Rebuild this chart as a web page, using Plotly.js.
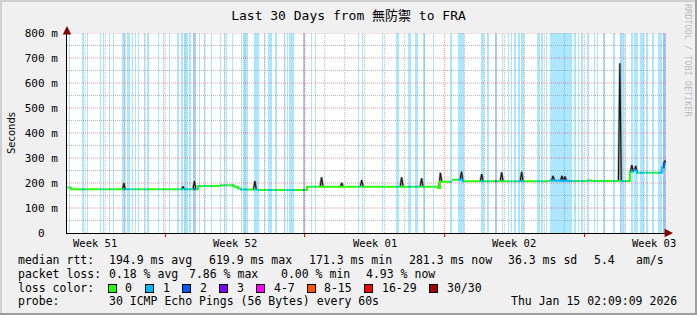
<!DOCTYPE html>
<html><head><meta charset="utf-8">
<script src="https://cdn.plot.ly/plotly-3.0.1.min.js"></script>
<style>
html,body{margin:0;padding:0;background:#f0f0f0;}
#wrap{position:relative;width:697px;height:315px;overflow:hidden;}
#chart{width:697px;height:315px;}
.fr{position:absolute;}
</style>
</head><body>
<div id="wrap">
<div id="chart"></div>
<div class="fr" style="left:0;top:0;width:697px;height:2px;background:#cfcfcf"></div>
<div class="fr" style="left:0;top:0;width:2px;height:315px;background:#cfcfcf"></div>
<div class="fr" style="left:0;bottom:0;width:697px;height:2px;background:#9e9e9e"></div>
<div class="fr" style="right:0;top:0;width:2px;height:315px;background:#9e9e9e"></div>
</div>
<script>
// ---- data (time in days since Tue Dec 16 2025 02:09:09) ----
const spanDays = 30;
const yMax = 800;
const titleText = 'Last 30 Days from 無防禦 to FRA';
const weekLabels = ['Week 51', 'Week 52', 'Week 01', 'Week 02', 'Week 03'];
const weekLabelDays = [1.41, 8.41, 15.41, 22.41, 29.41];
const weekStartDays = [4.91, 11.91, 18.91, 25.91];
const yTickVals = [0, 100, 200, 300, 400, 500, 600, 700, 800];
const yTickText = ['0\u00a0\u00a0', '100 m', '200 m', '300 m', '400 m', '500 m', '600 m', '700 m', '800 m'];
const yMinorVals = [50, 150, 250, 350, 450, 550, 650, 750];

// median rtt (ms), step changes
const medianDays = [0.00, 0.20, 6.56, 7.66, 8.36, 8.56, 8.71, 9.56, 12.02, 18.58, 18.68, 19.28, 19.83, 24.09, 24.99, 26.09, 26.29, 27.69, 27.74, 28.19, 28.39, 28.54, 29.79, 29.89];
const medianMs   = [182, 175, 188, 191, 185, 178, 174, 172, 185, 180, 205, 213, 207, 210, 208, 211, 208, 619.9, 208, 245, 250, 241, 262, 281.3];

// smoke peaks (ms)
const spikeDays  = [2.85, 5.81, 6.38, 9.41, 12.75, 13.76, 14.76, 16.76, 17.76, 18.70, 19.76, 20.77, 21.77, 22.77, 24.34, 24.79, 24.94, 27.69, 28.29, 28.49, 29.94];
const spikeTopMs = [199, 186, 208, 208, 223, 200, 212, 223, 219, 241, 245, 236, 243, 245, 228, 228, 226, 679, 272, 268, 290];

// packet loss intervals (pings lost of 30)
const lossStartDays = [0.08,0.75,1.02,1.64,1.82,2.10,2.32,2.77,2.87,3.00,
 3.24,3.41,3.54,3.84,4.02,4.54,4.81,5.12,5.52,5.69,
 5.86,6.12,6.32,6.59,6.86,7.20,7.66,7.86,7.98,8.26,
 8.70,8.83,9.36,9.48,9.86,10.07,10.40,10.87,11.00,11.12,
 11.23,11.83,12.23,12.42,14.57,14.79,15.77,16.47,17.08,17.43,
 17.84,18.31,19.18,19.58,20.72,21.02,21.43,21.77,22.10,22.23,
 22.38,22.58,22.72,23.55,23.72,24.00,24.19,25.39,25.59,25.72,
 26.05,26.39,26.55,26.86,27.34,27.69,27.74,27.94,28.23,28.39,
 28.69,28.98,29.28,29.59,29.86];
const lossEndDays = [0.13,0.85,1.07,1.72,1.87,2.15,2.37,2.87,2.92,3.15,
 3.32,3.46,3.61,3.92,4.09,4.61,4.86,5.17,5.59,5.79,
 6.06,6.21,6.46,6.66,6.93,7.26,7.71,7.91,8.03,8.31,
 8.76,9.05,9.45,9.61,9.91,10.27,10.50,10.92,11.07,11.20,
 11.37,11.90,12.28,12.47,14.64,14.84,15.82,16.61,17.23,17.58,
 17.91,18.36,19.28,19.88,20.88,21.13,21.53,21.82,22.15,22.30,
 22.48,22.67,22.89,23.67,23.82,24.05,25.30,25.47,25.65,25.84,
 26.14,26.44,26.60,26.93,27.44,27.74,27.89,28.01,28.36,28.59,
 28.89,29.11,29.38,29.80,29.98];
const lossLevel = [1,1,1,1,1,1,1,1,2,1,
 1,1,1,1,1,1,1,1,1,1,
 1,1,2,1,1,1,1,1,1,1,
 1,1,1,1,1,1,1,1,1,1,
 1,2,1,1,1,1,1,1,1,1,
 1,1,1,1,1,1,2,1,1,1,
 1,1,1,1,1,1,1,1,1,1,
 1,1,1,1,1,2,1,1,1,1,
 1,1,1,1,2];

const lossColorLabels = ['0', '1', '2', '3', '4-7', '8-15', '16-29', '30/30'];
const lossColors = ['#26ff00', '#00b8ff', '#0059ff', '#7e00ff', '#ff00ff', '#ff5500', '#ff0000', '#a10000'];

const rttLabel = 'median rtt:';
const rttStats = ['194.9 ms avg', '619.9 ms max', '171.3 ms min', '281.3 ms now', '36.3 ms sd', '5.4', 'am/s'];
const lossLabel = 'packet loss:';
const lossStats = ['0.18 % avg', '7.86 % max', '0.00 % min', '4.93 % now'];
const colorLabel = 'loss color:';
const probeLabel = 'probe:';
const probeText = '30 ICMP Echo Pings (56 Bytes) every 60s';
const stampText = 'Thu Jan 15 02:09:09 2026';
const watermark = 'RRDTOOL / TOBI OETIKER';

// ---- helpers ----
function medAt(t) {
  let v = medianMs[0];
  for (let i = 0; i < medianDays.length; i++) {
    if (medianDays[i] <= t + 1e-9) v = medianMs[i]; else break;
  }
  return v;
}
function lossAt(t) {
  for (let i = 0; i < lossStartDays.length; i++) {
    if (t >= lossStartDays[i] && t < lossEndDays[i]) return lossLevel[i];
  }
  return 0;
}
function colorIdx(L) {
  if (L <= 3) return L;
  if (L <= 7) return 4;
  if (L <= 15) return 5;
  if (L <= 29) return 6;
  return 7;
}
function rgba(hex, a) {
  const r = parseInt(hex.substr(1, 2), 16), g = parseInt(hex.substr(3, 2), 16), b = parseInt(hex.substr(5, 2), 16);
  return 'rgba(' + r + ',' + g + ',' + b + ',' + a + ')';
}
function vLines(vals) { const x = [], y = []; vals.forEach(v => { x.push(v, v, null); y.push(0, yMax, null); }); return { x, y }; }
function hLines(vals) { const x = [], y = []; vals.forEach(v => { x.push(0, spanDays, null); y.push(v, v, null); }); return { x, y }; }

// ---- traces ----
const traces = [];
traces.push({
  type: 'bar',
  x: lossStartDays.map((s, i) => (s + lossEndDays[i]) / 2),
  y: lossStartDays.map(() => yMax),
  width: lossStartDays.map((s, i) => lossEndDays[i] - s),
  base: 0,
  marker: { color: lossLevel.map(L => rgba(lossColors[colorIdx(L)], 0.33)), line: { width: 0 } },
  hoverinfo: 'skip'
});
const dayGrid = [];
for (let d = weekStartDays[0] - 7; d < spanDays; d += 1) {
  if (d > 0 && !weekStartDays.some(w => Math.abs(w - d) < 1e-6)) dayGrid.push(d);
}
const gMinor = 'rgba(128,128,128,0.55)';
const gMajor = 'rgba(255,0,0,0.42)';
const gDash = '1px,1px';
const g1 = vLines(dayGrid), g2 = hLines(yMinorVals), g3 = vLines(weekStartDays), g4 = hLines(yTickVals.filter(v => v > 0));
[[g1, gMinor], [g2, gMinor], [g3, gMajor], [g4, gMajor]].forEach(([g, c]) => {
  traces.push({ type: 'scatter', mode: 'lines', x: g.x, y: g.y, line: { color: c, width: 1, dash: gDash }, hoverinfo: 'skip' });
});
const sx = [], sy = [];
const half = 0.07;
spikeDays.forEach((t, i) => {
  sx.push(t - half, t, t + half, null);
  sy.push(medAt(t - half), spikeTopMs[i], medAt(t + half), null);
});
traces.push({ type: 'scatter', mode: 'lines', x: sx, y: sy, line: { color: 'rgba(150,150,150,0.7)', width: 2.6 }, hoverinfo: 'skip' });
traces.push({ type: 'scatter', mode: 'lines', x: sx, y: sy, line: { color: '#1a1a1a', width: 1.2 }, hoverinfo: 'skip' });

const bset = new Set([0, spanDays]);
medianDays.forEach(t => bset.add(t));
lossStartDays.forEach(t => bset.add(t));
lossEndDays.forEach(t => bset.add(t));
const bounds = Array.from(bset).filter(t => t >= 0 && t <= spanDays).sort((a, b) => a - b);
const segs = lossColors.map(() => ({ x: [], y: [], last: null }));
for (let i = 0; i < bounds.length - 1; i++) {
  const a = bounds[i], b = bounds[i + 1];
  if (b - a < 1e-9) continue;
  const mid = (a + b) / 2;
  const k = colorIdx(lossAt(mid));
  const v = medAt(mid);
  const s = segs[k];
  if (s.x.length && Math.abs(s.last - a) > 1e-9) { s.x.push(null); s.y.push(null); }
  s.x.push(a, b); s.y.push(v, v); s.last = b;
}
segs.forEach((s, k) => {
  if (!s.x.length) return;
  traces.push({ type: 'scatter', mode: 'lines', x: s.x, y: s.y, line: { color: lossColors[k], width: 2 }, hoverinfo: 'skip' });
});

// ---- layout ----
const L = 67, R = 666, T = 33, B = 233;
const px = p => (p - L) / (R - L);
const py = p => (B - p) / (B - T);
const mono = 'DejaVu Sans Mono, Noto Sans CJK JP, monospace';
const ann = [];
function txt(t, x, y, opts) {
  ann.push(Object.assign({ text: t, xref: 'paper', yref: 'paper', x: px(x), y: py(y), xanchor: 'left', yanchor: 'middle', showarrow: false, font: { family: mono, size: 11.5, color: '#000' } }, opts || {}));
}
txt(rttLabel, 16, 260);
[107, 207, 306.5, 406.5, 506, 592, 634].forEach((x, i) => txt(rttStats[i], x, 260));
txt(lossLabel, 16, 274);
[107, 187, 279, 364].forEach((x, i) => txt(lossStats[i], x, 274));
txt(colorLabel, 16, 288);
const boxX = [108, 145.5, 182.5, 219.5, 256.5, 307, 364.5, 429.5];
boxX.forEach((x, i) => {
  ann.push({ text: ' ', xref: 'paper', yref: 'paper', x: px(x + 4), y: py(288), xanchor: 'center', yanchor: 'middle', showarrow: false,
    width: 7, height: 7, bgcolor: lossColors[i], bordercolor: '#000', borderwidth: 1, borderpad: 0, font: { size: 4 } });
  txt(lossColorLabels[i], x + 15, 288);
});
txt(probeLabel, 16, 301);
txt(probeText, 107, 301);
txt(stampText, 679, 301, { xanchor: 'right' });
weekLabels.forEach((w, i) => {
  ann.push({ text: w, xref: 'x', yref: 'paper', x: weekLabelDays[i], y: py(242.5), xanchor: 'center', yanchor: 'middle', showarrow: false, font: { family: mono, size: 10.5, color: '#000' } });
});
ann.push({ text: 'Seconds', xref: 'paper', yref: 'paper', x: px(11), y: py(133), xanchor: 'center', yanchor: 'middle', textangle: -90, showarrow: false, font: { family: 'DejaVu Sans, sans-serif', size: 10, color: '#000' } });
ann.push({ text: watermark, xref: 'paper', yref: 'paper', x: px(688), y: py(60), xanchor: 'center', yanchor: 'middle', textangle: 90, showarrow: false, font: { family: mono, size: 8.5, color: '#bdbdbd' } });
ann.push({ text: '', xref: 'paper', yref: 'paper', x: px(L), y: py(26), ax: 0, ay: 9, showarrow: true, arrowhead: 2, arrowsize: 1.4, arrowwidth: 1.2, arrowcolor: '#800000' });
ann.push({ text: '', xref: 'paper', yref: 'paper', x: px(673), y: py(B), ax: -9, ay: 0, showarrow: true, arrowhead: 2, arrowsize: 1.4, arrowwidth: 1.2, arrowcolor: '#800000' });

const layout = {
  width: 697, height: 315,
  paper_bgcolor: 'rgba(0,0,0,0)', plot_bgcolor: '#ffffff',
  margin: { l: L, r: 697 - R, t: T, b: 315 - B, pad: 0 },
  showlegend: false, barmode: 'overlay', bargap: 0,
  font: { family: mono, size: 11, color: '#000' },
  title: { text: titleText, x: 0.5, xref: 'container', xanchor: 'center', y: 1 - 15.5 / 315, yref: 'container', yanchor: 'middle', font: { family: mono, size: 13, color: '#000' } },
  xaxis: {
    range: [0, spanDays], fixedrange: true, zeroline: false, showgrid: false,
    tickmode: 'array', tickvals: weekStartDays, showticklabels: false,
    ticks: 'outside', ticklen: 3, tickcolor: '#ff0000', tickwidth: 1,
    showline: true, linecolor: '#000', linewidth: 1
  },
  yaxis: {
    range: [0, yMax], fixedrange: true, tickmode: 'array', tickvals: yTickVals, ticktext: yTickText,
    showgrid: false, zeroline: false, showline: true, linecolor: '#000', linewidth: 1, ticks: '', ticklabelstandoff: 6,
    tickfont: { family: mono, size: 11, color: '#000' }
  },
  annotations: ann
};
Plotly.newPlot('chart', traces, layout, { staticPlot: true, displayModeBar: false });
</script>
</body></html>
